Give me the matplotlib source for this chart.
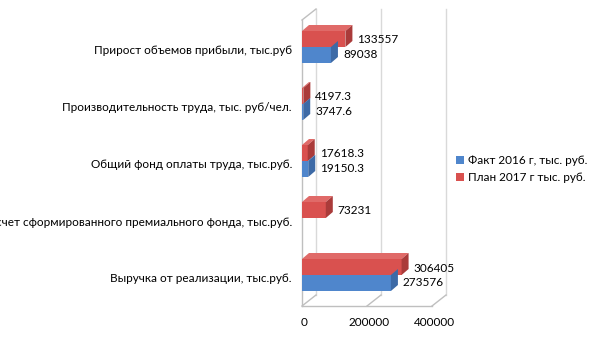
import numpy as np
import matplotlib
matplotlib.use('Agg')
import matplotlib.pyplot as plt
from matplotlib.patches import Polygon, Patch

# data (bottom to top, as drawn)
categories = ['Выручка от реализации, тыс.руб.',
              'Расчет сформированного премиального фонда, тыс.руб.',
              'Общий фонд оплаты труда, тыс.руб.',
              'Производительность труда, тыс. руб/чел.',
              'Прирост объемов прибыли, тыс.руб']
fact_2016 = [273576, None, 19150.3, 3747.6, 89038]
plan_2017 = [306405, 73231, 17618.3, 4197.3, 133557]
fact_labels = ['273576', '', '19150.3', '3747.6', '89038']
plan_labels = ['306405', '73231', '17618.3', '4197.3', '133557']
series_names = ['Факт 2016 г, тыс. руб.', 'План 2017 г тыс. руб.']
xticks = [0, 200000, 400000]

plt.rcParams['font.family'] = ['Lato', 'DejaVu Sans']

W, H = 605, 340
fig = plt.figure(figsize=(W / 100, H / 100), dpi=100)
ax = fig.add_axes([0, 0, 1, 1])
ax.axis('off')

# pixel -> data scale
x0_px = 302
px_per_unit = 65 / 200000
y0_px = 279
px_per_cat = 57
ax.set_xlim(-x0_px / px_per_unit, (W - x0_px) / px_per_unit)
ax.set_ylim((y0_px - H) / px_per_cat, y0_px / px_per_cat)

def dxp(p):
    return p / px_per_unit

def dyp(p):
    return p / px_per_cat

blue = ('#4F86CC', '#3D6AA6', '#6F9BD8')
red = ('#D9514F', '#AA3B3A', '#E06A68')
grid_c = '#d9d9d9'
wall_c = '#bfbfbf'

# walls / floor
wdx, wdy = dxp(14), dyp(11)
floor_y = dyp(y0_px - 306)
top_y = dyp(y0_px - 20)
for t in xticks:
    ax.plot([t + wdx, t + wdx], [floor_y + wdy, top_y + wdy], color=grid_c, lw=1, zorder=1)
    ax.plot([t, t + wdx], [floor_y, floor_y + wdy], color=wall_c, lw=1, zorder=1)
ax.plot([0, xticks[-1]], [floor_y, floor_y], color=wall_c, lw=1, zorder=1)
ax.plot([0, 0], [floor_y, top_y], color=wall_c, lw=1, zorder=1)
ax.plot([0, wdx], [top_y, top_y + wdy], color=wall_c, lw=1, zorder=1)

# bars
bh = dyp(16)
bdx, bdy = dxp(7), dyp(6)

def bar3d(v, ybot, cols):
    ytop = ybot + bh
    ax.add_patch(Polygon([(0, ybot), (v, ybot), (v, ytop), (0, ytop)],
                         closed=True, fc=cols[0], ec='none', zorder=3))
    ax.add_patch(Polygon([(v, ybot), (v + bdx, ybot + bdy), (v + bdx, ytop + bdy), (v, ytop)],
                         closed=True, fc=cols[1], ec='none', zorder=3))
    ax.add_patch(Polygon([(0, ytop), (bdx, ytop + bdy), (v + bdx, ytop + bdy), (v, ytop)],
                         closed=True, fc=cols[2], ec='none', zorder=2.5))

for i in range(len(categories)):
    split = i + dyp(4)
    if plan_2017[i] is not None:
        bar3d(plan_2017[i], split, red)
        ax.text(plan_2017[i] + bdx + dxp(5), split + bh / 2 - dyp(1), plan_labels[i],
                ha='left', va='center', fontsize=8.5, color='#000000', zorder=5)
    if fact_2016[i] is not None:
        bar3d(fact_2016[i], split - bh, blue)
        ax.text(fact_2016[i] + bdx + dxp(5), split - bh / 2, fact_labels[i],
                ha='left', va='center', fontsize=8.5, color='#000000', zorder=5)
    ax.text(-dxp(10), i, categories[i], ha='right', va='center', fontsize=8.5, color='#000000')

# x tick labels
for t in xticks:
    ax.text(t + dxp(2), dyp(y0_px - 323), f'{t:d}', ha='center', va='center', fontsize=8.5)

handles = [Patch(fc=blue[0]), Patch(fc=red[0])]
fig.legend(handles, series_names, loc='center left', bbox_to_anchor=(450 / W, 1 - 169 / H),
           frameon=False, fontsize=8.5, handlelength=0.7, handleheight=0.7,
           handletextpad=0.3, labelspacing=0.5, borderpad=0)

fig.savefig('out.png', dpi=100)
